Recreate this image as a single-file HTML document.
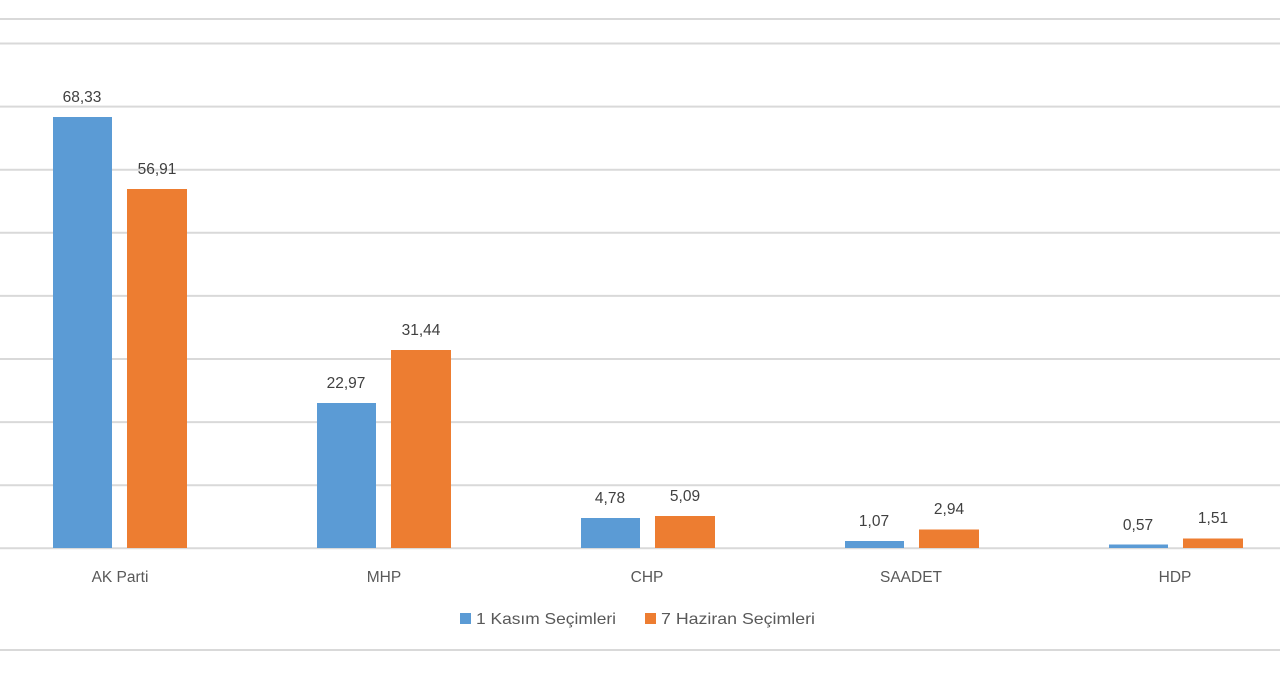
<!DOCTYPE html>
<html><head><meta charset="utf-8"><style>
html,body{margin:0;padding:0;background:#fff;}
svg{display:block;font-family:"Liberation Sans",sans-serif;}
</style></head><body>
<svg width="1280" height="682" viewBox="0 0 1280 682">
<g stroke="#d9d9d9" stroke-width="2">
<line x1="0" y1="19" x2="1280" y2="19"/>
<line x1="0" y1="43.5" x2="1280" y2="43.5"/>
<line x1="0" y1="106.6" x2="1280" y2="106.6"/>
<line x1="0" y1="169.7" x2="1280" y2="169.7"/>
<line x1="0" y1="232.8" x2="1280" y2="232.8"/>
<line x1="0" y1="295.9" x2="1280" y2="295.9"/>
<line x1="0" y1="359" x2="1280" y2="359"/>
<line x1="0" y1="422.1" x2="1280" y2="422.1"/>
<line x1="0" y1="485.2" x2="1280" y2="485.2"/>
<line x1="0" y1="548.3" x2="1280" y2="548.3"/>
<line x1="0" y1="650" x2="1280" y2="650"/>
</g>
<g fill="#5b9bd5">
<rect x="53" y="117" width="59" height="431"/>
<rect x="317" y="403" width="59" height="145"/>
<rect x="581" y="518" width="59" height="30"/>
<rect x="845" y="541" width="59" height="7"/>
<rect x="1109" y="544.5" width="59" height="3.5"/>
</g>
<g fill="#ed7d31">
<rect x="127" y="189" width="60" height="359"/>
<rect x="391" y="350" width="60" height="198"/>
<rect x="655" y="516" width="60" height="32"/>
<rect x="919" y="529.5" width="60" height="18.5"/>
<rect x="1183" y="538.5" width="60" height="9.5"/>
</g>
<g fill="#404040" font-size="15.5" text-anchor="middle">
<text x="82" y="102">68,33</text>
<text x="157" y="174">56,91</text>
<text x="346" y="388">22,97</text>
<text x="421" y="335">31,44</text>
<text x="610" y="503">4,78</text>
<text x="685" y="501">5,09</text>
<text x="874" y="526">1,07</text>
<text x="949" y="514">2,94</text>
<text x="1138" y="530">0,57</text>
<text x="1213" y="523">1,51</text>
</g>
<g fill="#595959" font-size="15.5" text-anchor="middle">
<text x="120" y="582">AK Parti</text>
<text x="384" y="582">MHP</text>
<text x="647" y="582">CHP</text>
<text x="911" y="582">SAADET</text>
<text x="1175" y="582">HDP</text>
</g>
<rect x="460" y="613" width="11" height="11" fill="#5b9bd5"/>
<text x="476" y="624" font-size="16" fill="#595959" textLength="140" lengthAdjust="spacingAndGlyphs">1 Kasım Seçimleri</text>
<rect x="645" y="613" width="11" height="11" fill="#ed7d31"/>
<text x="661" y="624" font-size="16" fill="#595959" textLength="154" lengthAdjust="spacingAndGlyphs">7 Haziran Seçimleri</text>
</svg>
</body></html>
